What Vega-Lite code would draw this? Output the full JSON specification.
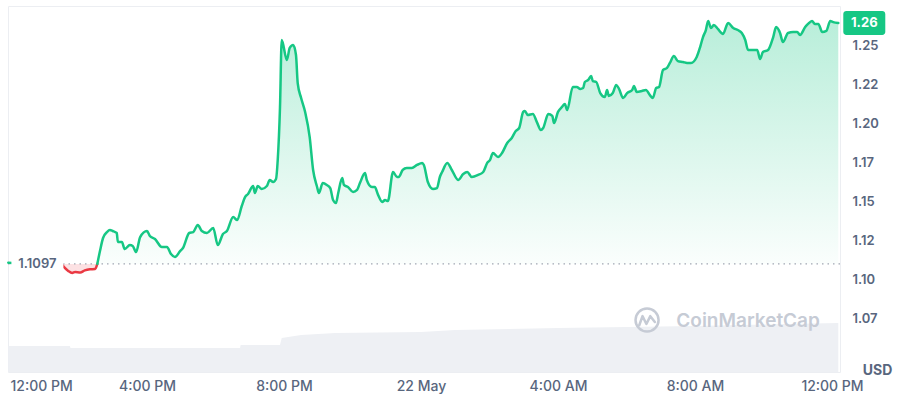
{
  "$schema": "https://vega.github.io/schema/vega-lite/v6.json",
  "width": 832,
  "height": 366,
  "autosize": "none",
  "padding": {"left": 8, "top": 6, "right": 60, "bottom": 28},
  "background": "white",
  "config": {
    "view": {"stroke": "#eceef2", "strokeWidth": 1},
    "font": "Inter"
  },
  "datasets": {
    "price": [
      {"t":"2024-05-21T11:57","p":1.1105,"s":"g1"},
      {"t":"2024-05-21T12:20","p":1.1102,"s":"g1"},
      {"t":"2024-05-21T12:45","p":1.1104,"s":"g1"},
      {"t":"2024-05-21T13:10","p":1.1100,"s":"g1"},
      {"t":"2024-05-21T13:30","p":1.1097,"s":"g1"},
      {"t":"2024-05-21T13:30","p":1.1097,"s":"r"},
      {"t":"2024-05-21T13:36","p":1.1071,"s":"r"},
      {"t":"2024-05-21T13:42","p":1.1052,"s":"r"},
      {"t":"2024-05-21T13:49","p":1.1039,"s":"r"},
      {"t":"2024-05-21T13:54","p":1.1045,"s":"r"},
      {"t":"2024-05-21T14:03","p":1.1042,"s":"r"},
      {"t":"2024-05-21T14:11","p":1.1055,"s":"r"},
      {"t":"2024-05-21T14:20","p":1.1062,"s":"r"},
      {"t":"2024-05-21T14:29","p":1.1064,"s":"r"},
      {"t":"2024-05-21T14:33","p":1.1097,"s":"r"},
      {"t":"2024-05-21T14:33","p":1.1097,"s":"g2"},
      {"t":"2024-05-21T14:38","p":1.1186,"s":"g2"},
      {"t":"2024-05-21T14:43","p":1.1263,"s":"g2"},
      {"t":"2024-05-21T14:50","p":1.1301,"s":"g2"},
      {"t":"2024-05-21T14:55","p":1.1314,"s":"g2"},
      {"t":"2024-05-21T15:00","p":1.1308,"s":"g2"},
      {"t":"2024-05-21T15:07","p":1.1295,"s":"g2"},
      {"t":"2024-05-21T15:09","p":1.1237,"s":"g2"},
      {"t":"2024-05-21T15:16","p":1.1237,"s":"g2"},
      {"t":"2024-05-21T15:21","p":1.1192,"s":"g2"},
      {"t":"2024-05-21T15:30","p":1.1218,"s":"g2"},
      {"t":"2024-05-21T15:35","p":1.1212,"s":"g2"},
      {"t":"2024-05-21T15:41","p":1.1173,"s":"g2"},
      {"t":"2024-05-21T15:48","p":1.1269,"s":"g2"},
      {"t":"2024-05-21T16:00","p":1.1308,"s":"g2"},
      {"t":"2024-05-21T16:05","p":1.1276,"s":"g2"},
      {"t":"2024-05-21T16:14","p":1.1256,"s":"g2"},
      {"t":"2024-05-21T16:26","p":1.1205,"s":"g2"},
      {"t":"2024-05-21T16:35","p":1.1205,"s":"g2"},
      {"t":"2024-05-21T16:42","p":1.1160,"s":"g2"},
      {"t":"2024-05-21T16:49","p":1.1141,"s":"g2"},
      {"t":"2024-05-21T16:58","p":1.1179,"s":"g2"},
      {"t":"2024-05-21T17:03","p":1.1199,"s":"g2"},
      {"t":"2024-05-21T17:14","p":1.1295,"s":"g2"},
      {"t":"2024-05-21T17:21","p":1.1301,"s":"g2"},
      {"t":"2024-05-21T17:29","p":1.1346,"s":"g2"},
      {"t":"2024-05-21T17:36","p":1.1308,"s":"g2"},
      {"t":"2024-05-21T17:45","p":1.1295,"s":"g2"},
      {"t":"2024-05-21T17:56","p":1.1327,"s":"g2"},
      {"t":"2024-05-21T18:04","p":1.1218,"s":"g2"},
      {"t":"2024-05-21T18:13","p":1.1288,"s":"g2"},
      {"t":"2024-05-21T18:20","p":1.1308,"s":"g2"},
      {"t":"2024-05-21T18:31","p":1.1397,"s":"g2"},
      {"t":"2024-05-21T18:38","p":1.1378,"s":"g2"},
      {"t":"2024-05-21T18:46","p":1.1468,"s":"g2"},
      {"t":"2024-05-21T18:52","p":1.1526,"s":"g2"},
      {"t":"2024-05-21T18:57","p":1.1545,"s":"g2"},
      {"t":"2024-05-21T19:06","p":1.1596,"s":"g2"},
      {"t":"2024-05-21T19:09","p":1.1551,"s":"g2"},
      {"t":"2024-05-21T19:14","p":1.1596,"s":"g2"},
      {"t":"2024-05-21T19:21","p":1.1577,"s":"g2"},
      {"t":"2024-05-21T19:30","p":1.1596,"s":"g2"},
      {"t":"2024-05-21T19:35","p":1.1635,"s":"g2"},
      {"t":"2024-05-21T19:41","p":1.1622,"s":"g2"},
      {"t":"2024-05-21T19:46","p":1.1641,"s":"g2"},
      {"t":"2024-05-21T19:49","p":1.1763,"s":"g2"},
      {"t":"2024-05-21T19:53","p":1.2103,"s":"g2"},
      {"t":"2024-05-21T19:56","p":1.2532,"s":"g2"},
      {"t":"2024-05-21T20:05","p":1.2404,"s":"g2"},
      {"t":"2024-05-21T20:10","p":1.2481,"s":"g2"},
      {"t":"2024-05-21T20:16","p":1.2500,"s":"g2"},
      {"t":"2024-05-21T20:21","p":1.2436,"s":"g2"},
      {"t":"2024-05-21T20:24","p":1.2256,"s":"g2"},
      {"t":"2024-05-21T20:30","p":1.2160,"s":"g2"},
      {"t":"2024-05-21T20:37","p":1.2071,"s":"g2"},
      {"t":"2024-05-21T20:45","p":1.1910,"s":"g2"},
      {"t":"2024-05-21T20:51","p":1.1699,"s":"g2"},
      {"t":"2024-05-21T20:58","p":1.1590,"s":"g2"},
      {"t":"2024-05-21T21:01","p":1.1551,"s":"g2"},
      {"t":"2024-05-21T21:08","p":1.1615,"s":"g2"},
      {"t":"2024-05-21T21:15","p":1.1603,"s":"g2"},
      {"t":"2024-05-21T21:21","p":1.1583,"s":"g2"},
      {"t":"2024-05-21T21:26","p":1.1506,"s":"g2"},
      {"t":"2024-05-21T21:31","p":1.1487,"s":"g2"},
      {"t":"2024-05-21T21:35","p":1.1551,"s":"g2"},
      {"t":"2024-05-21T21:42","p":1.1647,"s":"g2"},
      {"t":"2024-05-21T21:45","p":1.1603,"s":"g2"},
      {"t":"2024-05-21T21:52","p":1.1590,"s":"g2"},
      {"t":"2024-05-21T22:01","p":1.1558,"s":"g2"},
      {"t":"2024-05-21T22:08","p":1.1571,"s":"g2"},
      {"t":"2024-05-21T22:13","p":1.1615,"s":"g2"},
      {"t":"2024-05-21T22:22","p":1.1679,"s":"g2"},
      {"t":"2024-05-21T22:25","p":1.1635,"s":"g2"},
      {"t":"2024-05-21T22:34","p":1.1590,"s":"g2"},
      {"t":"2024-05-21T22:39","p":1.1590,"s":"g2"},
      {"t":"2024-05-21T22:45","p":1.1538,"s":"g2"},
      {"t":"2024-05-21T22:52","p":1.1494,"s":"g2"},
      {"t":"2024-05-21T22:57","p":1.1506,"s":"g2"},
      {"t":"2024-05-21T23:02","p":1.1500,"s":"g2"},
      {"t":"2024-05-21T23:11","p":1.1686,"s":"g2"},
      {"t":"2024-05-21T23:18","p":1.1654,"s":"g2"},
      {"t":"2024-05-21T23:21","p":1.1654,"s":"g2"},
      {"t":"2024-05-21T23:28","p":1.1699,"s":"g2"},
      {"t":"2024-05-21T23:35","p":1.1712,"s":"g2"},
      {"t":"2024-05-21T23:44","p":1.1712,"s":"g2"},
      {"t":"2024-05-21T23:53","p":1.1731,"s":"g2"},
      {"t":"2024-05-22T00:02","p":1.1744,"s":"g2"},
      {"t":"2024-05-22T00:05","p":1.1731,"s":"g2"},
      {"t":"2024-05-22T00:12","p":1.1622,"s":"g2"},
      {"t":"2024-05-22T00:21","p":1.1577,"s":"g2"},
      {"t":"2024-05-22T00:28","p":1.1583,"s":"g2"},
      {"t":"2024-05-22T00:33","p":1.1654,"s":"g2"},
      {"t":"2024-05-22T00:37","p":1.1686,"s":"g2"},
      {"t":"2024-05-22T00:46","p":1.1744,"s":"g2"},
      {"t":"2024-05-22T00:54","p":1.1699,"s":"g2"},
      {"t":"2024-05-22T01:05","p":1.1635,"s":"g2"},
      {"t":"2024-05-22T01:14","p":1.1673,"s":"g2"},
      {"t":"2024-05-22T01:21","p":1.1686,"s":"g2"},
      {"t":"2024-05-22T01:29","p":1.1654,"s":"g2"},
      {"t":"2024-05-22T01:40","p":1.1667,"s":"g2"},
      {"t":"2024-05-22T01:49","p":1.1686,"s":"g2"},
      {"t":"2024-05-22T01:56","p":1.1744,"s":"g2"},
      {"t":"2024-05-22T02:01","p":1.1763,"s":"g2"},
      {"t":"2024-05-22T02:06","p":1.1808,"s":"g2"},
      {"t":"2024-05-22T02:15","p":1.1782,"s":"g2"},
      {"t":"2024-05-22T02:22","p":1.1808,"s":"g2"},
      {"t":"2024-05-22T02:31","p":1.1872,"s":"g2"},
      {"t":"2024-05-22T02:39","p":1.1904,"s":"g2"},
      {"t":"2024-05-22T02:46","p":1.1949,"s":"g2"},
      {"t":"2024-05-22T02:52","p":1.1968,"s":"g2"},
      {"t":"2024-05-22T02:59","p":1.2071,"s":"g2"},
      {"t":"2024-05-22T03:02","p":1.2077,"s":"g2"},
      {"t":"2024-05-22T03:07","p":1.2051,"s":"g2"},
      {"t":"2024-05-22T03:16","p":1.2058,"s":"g2"},
      {"t":"2024-05-22T03:23","p":1.2006,"s":"g2"},
      {"t":"2024-05-22T03:30","p":1.1955,"s":"g2"},
      {"t":"2024-05-22T03:34","p":1.1968,"s":"g2"},
      {"t":"2024-05-22T03:43","p":1.2058,"s":"g2"},
      {"t":"2024-05-22T03:50","p":1.2045,"s":"g2"},
      {"t":"2024-05-22T03:53","p":1.2000,"s":"g2"},
      {"t":"2024-05-22T04:00","p":1.2071,"s":"g2"},
      {"t":"2024-05-22T04:07","p":1.2103,"s":"g2"},
      {"t":"2024-05-22T04:12","p":1.2122,"s":"g2"},
      {"t":"2024-05-22T04:16","p":1.2083,"s":"g2"},
      {"t":"2024-05-22T04:26","p":1.2231,"s":"g2"},
      {"t":"2024-05-22T04:33","p":1.2231,"s":"g2"},
      {"t":"2024-05-22T04:39","p":1.2218,"s":"g2"},
      {"t":"2024-05-22T04:44","p":1.2224,"s":"g2"},
      {"t":"2024-05-22T04:47","p":1.2263,"s":"g2"},
      {"t":"2024-05-22T04:53","p":1.2276,"s":"g2"},
      {"t":"2024-05-22T04:58","p":1.2301,"s":"g2"},
      {"t":"2024-05-22T05:01","p":1.2269,"s":"g2"},
      {"t":"2024-05-22T05:07","p":1.2263,"s":"g2"},
      {"t":"2024-05-22T05:14","p":1.2192,"s":"g2"},
      {"t":"2024-05-22T05:22","p":1.2167,"s":"g2"},
      {"t":"2024-05-22T05:26","p":1.2212,"s":"g2"},
      {"t":"2024-05-22T05:29","p":1.2173,"s":"g2"},
      {"t":"2024-05-22T05:36","p":1.2192,"s":"g2"},
      {"t":"2024-05-22T05:42","p":1.2244,"s":"g2"},
      {"t":"2024-05-22T05:47","p":1.2218,"s":"g2"},
      {"t":"2024-05-22T05:54","p":1.2160,"s":"g2"},
      {"t":"2024-05-22T06:01","p":1.2192,"s":"g2"},
      {"t":"2024-05-22T06:10","p":1.2212,"s":"g2"},
      {"t":"2024-05-22T06:13","p":1.2237,"s":"g2"},
      {"t":"2024-05-22T06:18","p":1.2199,"s":"g2"},
      {"t":"2024-05-22T06:27","p":1.2205,"s":"g2"},
      {"t":"2024-05-22T06:34","p":1.2212,"s":"g2"},
      {"t":"2024-05-22T06:41","p":1.2179,"s":"g2"},
      {"t":"2024-05-22T06:46","p":1.2160,"s":"g2"},
      {"t":"2024-05-22T06:52","p":1.2224,"s":"g2"},
      {"t":"2024-05-22T06:57","p":1.2231,"s":"g2"},
      {"t":"2024-05-22T07:04","p":1.2340,"s":"g2"},
      {"t":"2024-05-22T07:11","p":1.2353,"s":"g2"},
      {"t":"2024-05-22T07:16","p":1.2385,"s":"g2"},
      {"t":"2024-05-22T07:23","p":1.2429,"s":"g2"},
      {"t":"2024-05-22T07:30","p":1.2397,"s":"g2"},
      {"t":"2024-05-22T07:39","p":1.2391,"s":"g2"},
      {"t":"2024-05-22T07:46","p":1.2385,"s":"g2"},
      {"t":"2024-05-22T07:53","p":1.2385,"s":"g2"},
      {"t":"2024-05-22T08:03","p":1.2423,"s":"g2"},
      {"t":"2024-05-22T08:09","p":1.2487,"s":"g2"},
      {"t":"2024-05-22T08:14","p":1.2551,"s":"g2"},
      {"t":"2024-05-22T08:19","p":1.2596,"s":"g2"},
      {"t":"2024-05-22T08:23","p":1.2654,"s":"g2"},
      {"t":"2024-05-22T08:28","p":1.2609,"s":"g2"},
      {"t":"2024-05-22T08:33","p":1.2628,"s":"g2"},
      {"t":"2024-05-22T08:40","p":1.2603,"s":"g2"},
      {"t":"2024-05-22T08:49","p":1.2571,"s":"g2"},
      {"t":"2024-05-22T08:58","p":1.2641,"s":"g2"},
      {"t":"2024-05-22T09:07","p":1.2609,"s":"g2"},
      {"t":"2024-05-22T09:15","p":1.2596,"s":"g2"},
      {"t":"2024-05-22T09:22","p":1.2577,"s":"g2"},
      {"t":"2024-05-22T09:28","p":1.2532,"s":"g2"},
      {"t":"2024-05-22T09:33","p":1.2468,"s":"g2"},
      {"t":"2024-05-22T09:42","p":1.2468,"s":"g2"},
      {"t":"2024-05-22T09:49","p":1.2468,"s":"g2"},
      {"t":"2024-05-22T09:54","p":1.2410,"s":"g2"},
      {"t":"2024-05-22T09:59","p":1.2455,"s":"g2"},
      {"t":"2024-05-22T10:08","p":1.2468,"s":"g2"},
      {"t":"2024-05-22T10:17","p":1.2551,"s":"g2"},
      {"t":"2024-05-22T10:22","p":1.2615,"s":"g2"},
      {"t":"2024-05-22T10:29","p":1.2577,"s":"g2"},
      {"t":"2024-05-22T10:34","p":1.2519,"s":"g2"},
      {"t":"2024-05-22T10:43","p":1.2577,"s":"g2"},
      {"t":"2024-05-22T10:52","p":1.2583,"s":"g2"},
      {"t":"2024-05-22T10:59","p":1.2583,"s":"g2"},
      {"t":"2024-05-22T11:04","p":1.2564,"s":"g2"},
      {"t":"2024-05-22T11:13","p":1.2615,"s":"g2"},
      {"t":"2024-05-22T11:18","p":1.2635,"s":"g2"},
      {"t":"2024-05-22T11:25","p":1.2654,"s":"g2"},
      {"t":"2024-05-22T11:30","p":1.2635,"s":"g2"},
      {"t":"2024-05-22T11:36","p":1.2635,"s":"g2"},
      {"t":"2024-05-22T11:43","p":1.2583,"s":"g2"},
      {"t":"2024-05-22T11:50","p":1.2590,"s":"g2"},
      {"t":"2024-05-22T11:57","p":1.2654,"s":"g2"},
      {"t":"2024-05-22T12:02","p":1.2647,"s":"g2"},
      {"t":"2024-05-22T12:11","p":1.2641,"s":"g2"}
    ],
    "volume": [
      {"t":"2024-05-21T11:57","v":52},
      {"t":"2024-05-21T13:45","v":52},
      {"t":"2024-05-21T13:46","v":48},
      {"t":"2024-05-21T18:43","v":48},
      {"t":"2024-05-21T18:44","v":54},
      {"t":"2024-05-21T19:53","v":54},
      {"t":"2024-05-21T19:56","v":68},
      {"t":"2024-05-21T20:30","v":74},
      {"t":"2024-05-21T21:30","v":78},
      {"t":"2024-05-22T00:00","v":80},
      {"t":"2024-05-22T01:00","v":84},
      {"t":"2024-05-22T04:00","v":88},
      {"t":"2024-05-22T08:00","v":92},
      {"t":"2024-05-22T12:11","v":98}
    ],
    "open": [{"t": "2024-05-21T12:48", "p": 1.1097, "label": "1.1097"}],
    "logo": [{"t": "2024-05-22T06:36", "p": 1.0737}],
    "brand": [{"t": "2024-05-22T09:33", "p": 1.0731, "label": "CoinMarketCap"}],
    "last": [{"t": "2024-05-22T12:11", "p": 1.2641}]
  },
  "encoding": {
    "x": {
      "field": "t", "type": "temporal",
      "scale": {"domain": [{"year":2024,"month":5,"date":21,"hours":11,"minutes":56,"seconds":30},{"year":2024,"month":5,"date":22,"hours":12,"minutes":14}]},
      "axis": {
        "title": null, "domain": false, "ticks": false, "grid": false,
        "values": [
          {"year":2024,"month":5,"date":21,"hours":12},
          {"year":2024,"month":5,"date":21,"hours":16},
          {"year":2024,"month":5,"date":21,"hours":20},
          {"year":2024,"month":5,"date":22,"hours":0},
          {"year":2024,"month":5,"date":22,"hours":4},
          {"year":2024,"month":5,"date":22,"hours":8},
          {"year":2024,"month":5,"date":22,"hours":12}
        ],
        "labelExpr": "hours(datum.value) == 0 ? timeFormat(datum.value, '%-d %b') : timeFormat(datum.value, '%-I:%M %p')",
        "labelFlush": 4, "labelPadding": 7, "labelFontSize": 14, "labelFontWeight": 500,
        "labelColor": "#58667e", "labelFont": "Inter"
      }
    }
  },
  "layer": [
    {
      "data": {"name": "volume"},
      "mark": {"type": "area", "color": "#eef0f4"},
      "encoding": {
        "y": {"field": "v", "type": "quantitative", "scale": {"domain": [0, 732]}, "axis": null}
      }
    },
    {
      "data": {"name": "price"},
      "transform": [{"filter": "datum.s != 'r'"}],
      "mark": {
        "type": "area", "interpolate": "monotone",
        "color": {"gradient": "linear", "x1": 0, "y1": 0, "x2": 0, "y2": 1,
          "stops": [{"offset": 0, "color": "rgba(22,199,132,0.30)"}, {"offset": 1, "color": "rgba(22,199,132,0.02)"}]}
      },
      "encoding": {
        "y": {"field": "p", "type": "quantitative",
          "scale": {"domain": [1.0404, 1.275], "nice": false, "zero": false},
          "axis": {
            "orient": "right", "title": "USD", "titleAngle": 0, "titleX": 37, "titleY": 364,
            "titleAlign": "center", "titleBaseline": "middle", "titleFontSize": 14, "titleFontWeight": 700,
            "titleColor": "#58667e", "titleFont": "Inter",
            "values": [1.075, 1.1, 1.125, 1.15, 1.175, 1.2, 1.225, 1.25],
            "labelExpr": "format(floor(datum.value*100+0.000001)/100, '.2f')",
            "domain": false, "ticks": false, "labelPadding": 12, "labelFontSize": 13,
            "labelFontWeight": 600, "labelColor": "#58667e", "labelFont": "Inter",
            "gridColor": "#eceef2", "gridWidth": 1
          }
        },
        "y2": {"datum": 1.1097},
        "detail": {"field": "s"}
      }
    },
    {
      "data": {"name": "price"},
      "transform": [{"filter": "datum.s == 'r'"}],
      "mark": {"type": "area", "interpolate": "monotone", "color": "rgba(234,57,67,0.15)"},
      "encoding": {
        "y": {"field": "p", "type": "quantitative", "scale": {"domain": [1.0404, 1.275], "nice": false, "zero": false}, "axis": null},
        "y2": {"datum": 1.1097}
      }
    },
    {
      "data": {"name": "open"},
      "mark": {"type": "rule", "color": "#a1a7b3", "strokeDash": [1.5, 4], "strokeWidth": 1.2},
      "encoding": {
        "x": null,
        "y": {"field": "p", "type": "quantitative", "scale": {"domain": [1.0404, 1.275], "nice": false, "zero": false}, "axis": null}
      }
    },
    {
      "data": {"name": "price"},
      "mark": {"type": "line", "interpolate": "monotone", "strokeWidth": 2.5, "strokeJoin": "round", "strokeCap": "round"},
      "encoding": {
        "y": {"field": "p", "type": "quantitative", "scale": {"domain": [1.0404, 1.275], "nice": false, "zero": false}, "axis": null},
        "color": {"field": "s", "type": "nominal", "scale": {"domain": ["g1", "r", "g2"], "range": ["#16c784", "#ea3943", "#16c784"]}, "legend": null},
        "detail": {"field": "s"}
      }
    },
    {
      "data": {"name": "open"},
      "mark": {"type": "point", "shape": "M-1,-0.4H1V0.4H-1Z", "size": 2704, "filled": true, "fill": "white", "opacity": 1, "strokeWidth": 0},
      "encoding": {
        "y": {"field": "p", "type": "quantitative", "scale": {"domain": [1.0404, 1.275], "nice": false, "zero": false}, "axis": null}
      }
    },
    {
      "data": {"name": "open"},
      "mark": {"type": "text", "font": "Inter", "fontSize": 13, "fontWeight": 600, "color": "#58667e", "align": "center", "baseline": "middle"},
      "encoding": {
        "y": {"field": "p", "type": "quantitative", "scale": {"domain": [1.0404, 1.275], "nice": false, "zero": false}, "axis": null},
        "text": {"field": "label"}
      }
    },
    {
      "data": {"name": "logo"},
      "mark": {"type": "point", "shape": "circle", "size": 531, "filled": false, "stroke": "#c6cbd5", "strokeWidth": 2.5, "opacity": 1},
      "encoding": {
        "y": {"field": "p", "type": "quantitative", "scale": {"domain": [1.0404, 1.275], "nice": false, "zero": false}, "axis": null}
      }
    },
    {
      "data": {"name": "logo"},
      "mark": {"type": "point", "shape": "M-0.6,0.4L-0.35,-0.3L-0.05,0.3L0.25,-0.3L0.6,0.15", "size": 676, "filled": false, "stroke": "#c6cbd5", "strokeWidth": 2.5, "strokeJoin": "round", "strokeCap": "round", "opacity": 1},
      "encoding": {
        "y": {"field": "p", "type": "quantitative", "scale": {"domain": [1.0404, 1.275], "nice": false, "zero": false}, "axis": null}
      }
    },
    {
      "data": {"name": "brand"},
      "mark": {"type": "text", "font": "Inter", "fontSize": 19, "fontWeight": 600, "color": "#c6cbd5", "align": "center", "baseline": "middle"},
      "encoding": {
        "y": {"field": "p", "type": "quantitative", "scale": {"domain": [1.0404, 1.275], "nice": false, "zero": false}, "axis": null},
        "text": {"field": "label"}
      }
    },
    {
      "data": {"name": "last"},
      "mark": {"type": "point", "shape": "M-0.857,-0.571H0.857A0.143,0.143 0 0 1 1,-0.429V0.429A0.143,0.143 0 0 1 0.857,0.571H-0.857A0.143,0.143 0 0 1 -1,0.429V-0.429A0.143,0.143 0 0 1 -0.857,-0.571Z", "size": 1764, "filled": true, "fill": "#16c784", "opacity": 1, "strokeWidth": 0, "xOffset": 26},
      "encoding": {
        "y": {"field": "p", "type": "quantitative", "scale": {"domain": [1.0404, 1.275], "nice": false, "zero": false}, "axis": null}
      }
    },
    {
      "data": {"name": "last"},
      "mark": {"type": "text", "font": "Inter", "fontSize": 13, "fontWeight": 700, "color": "white", "align": "center", "baseline": "middle", "xOffset": 26},
      "encoding": {
        "y": {"field": "p", "type": "quantitative", "scale": {"domain": [1.0404, 1.275], "nice": false, "zero": false}, "axis": null},
        "text": {"field": "p", "format": ".2f"}
      }
    }
  ],
  "resolve": {"scale": {"y": "independent"}}
}
